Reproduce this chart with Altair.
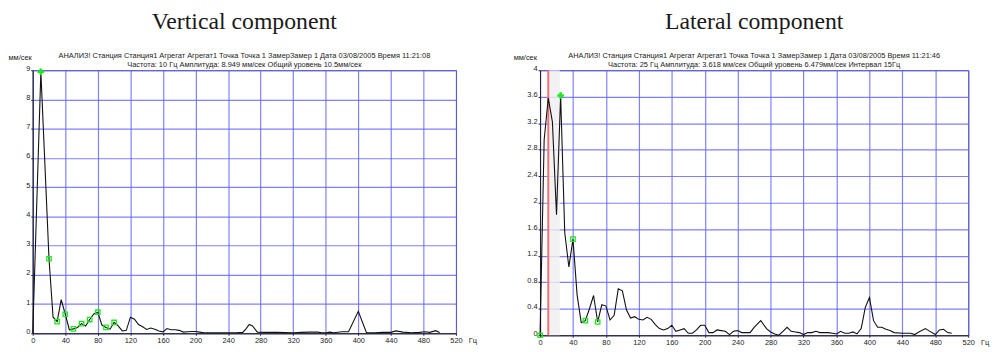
import altair as alt
import pandas as pd

# ---------------- data ----------------
V_FREQ = [0, 10, 20, 25, 30, 35, 40, 45, 50, 55, 60, 65, 70, 75, 80, 85, 90, 95, 100,
          105, 110, 115, 120, 125, 130, 135, 140, 145, 150, 155, 160, 165, 170, 175,
          180, 185, 190, 195, 200, 205, 210, 220, 230, 240, 250, 258, 262, 266, 270,
          276, 285, 300, 320, 330, 340, 350, 355, 360, 365, 370, 380, 388, 400, 410,
          420, 430, 440, 446, 455, 465, 475, 482, 488, 495, 500]
V_AMP = [0, 8.949, 2.55, 0.55, 0.40, 1.15, 0.65, 0.12, 0.15, 0.20, 0.33, 0.25, 0.47,
         0.66, 0.72, 0.28, 0.20, 0.14, 0.37, 0.25, 0.08, 0.10, 0.55, 0.48, 0.30, 0.22,
         0.13, 0.18, 0.14, 0.08, 0.05, 0.16, 0.12, 0.12, 0.10, 0.04, 0.05, 0.06, 0.06,
         0.04, 0.02, 0.02, 0.02, 0.02, 0.02, 0.03, 0.15, 0.30, 0.25, 0.04, 0.03, 0.03,
         0.02, 0.03, 0.04, 0.04, 0.02, 0.02, 0.04, 0.02, 0.05, 0.05, 0.75, 0.02, 0.02,
         0.03, 0.03, 0.08, 0.04, 0.02, 0.03, 0.05, 0.03, 0.09, 0.03]

L_FREQ = [0, 5, 10, 15, 20, 25, 30, 35, 40, 45, 50, 55, 60, 65, 70, 75, 80, 85, 90, 95,
          100, 105, 110, 115, 120, 125, 130, 135, 140, 145, 150, 155, 160, 165, 170,
          175, 180, 185, 190, 195, 200, 205, 210, 215, 220, 225, 230, 235, 240, 245,
          250, 255, 260, 268, 275, 280, 285, 290, 295, 300, 305, 310, 315, 320, 325,
          330, 335, 340, 350, 355, 360, 365, 370, 375, 380, 385, 390, 395, 400, 405,
          410, 415, 420, 425, 430, 440, 450, 455, 460, 468, 472, 480, 485, 490, 495, 500]
L_AMP = [0, 2.95, 3.58, 3.22, 1.82, 3.618, 1.55, 1.03, 1.45, 0.61, 0.19, 0.22, 0.40,
         0.60, 0.20, 0.46, 0.44, 0.23, 0.30, 0.70, 0.67, 0.38, 0.26, 0.28, 0.24, 0.23,
         0.27, 0.24, 0.16, 0.10, 0.08, 0.10, 0.15, 0.06, 0.08, 0.10, 0.03, 0.03, 0.08,
         0.15, 0.15, 0.04, 0.04, 0.08, 0.07, 0.06, 0.01, 0.06, 0.07, 0.04, 0.04, 0.04,
         0.12, 0.22, 0.10, 0.05, 0.02, 0.00, 0.06, 0.12, 0.06, 0.05, 0.04, 0.01, 0.04,
         0.04, 0.06, 0.04, 0.04, 0.03, 0.02, 0.06, 0.03, 0.03, 0.05, 0.02, 0.10, 0.42,
         0.57, 0.22, 0.12, 0.12, 0.09, 0.07, 0.04, 0.03, 0.03, 0.01, 0.05, 0.10, 0.07,
         0.01, 0.08, 0.09, 0.04, 0.03]

V_SQ_FREQ = [20, 30, 40, 50, 60, 70, 80, 90, 100]
V_SQ_AMP = [2.55, 0.40, 0.65, 0.15, 0.33, 0.47, 0.72, 0.20, 0.37]
V_PEAK_FREQ = [10]
V_PEAK_AMP = [8.949]

L_SQ_FREQ = [0, 40, 55, 70]
L_SQ_AMP = [0, 1.45, 0.22, 0.20]
L_PEAK_FREQ = [25]
L_PEAK_AMP = [3.618]
L_CURSOR_FREQ = [10]
L_BAND_START = [10]
L_BAND_END = [24]

X_TICKS = list(range(0, 521, 40))
V_YTICKS = list(range(0, 10))
L_YTICKS = [0, 0.4, 0.8, 1.2, 1.6, 2, 2.4, 2.8, 3.2, 3.6, 4]

TITLES = ["Vertical component", "Lateral component"]
HEAD1 = ["АНАЛИЗ! Станция Станция1   Агрегат Агрегат1  Точка Точка  1  ЗамерЗамер  1  Дата 03/08/2005  Время 11:21:08",
         "АНАЛИЗ! Станция Станция1   Агрегат Агрегат1  Точка Точка  1  ЗамерЗамер  1  Дата 03/08/2005  Время 11:21:46"]
HEAD2 = ["Частота: 10 Гц Амплитуда: 8.949 мм/сек Общий уровень 10.5мм/сек",
         "Частота: 25 Гц Амплитуда: 3.618 мм/сек Общий уровень 6.479мм/сек Интервал 15Гц"]
Y_UNIT = "мм/сек"
X_UNIT = "Гц"

GREEN = "#1ee81e"
SANS = "Liberation Sans"


def text_layer(txt, x, y, size, font=SANS, align="center", baseline="middle", color="#222"):
    return alt.Chart(pd.DataFrame({"t": [txt]})).mark_text(
        font=font, fontSize=size, align=align, baseline=baseline, color=color
    ).encode(text="t:N", x=alt.value(x), y=alt.value(y))


def panel(freq, amp, sqf, sqa, pkf, pka, ymax, yticks, w, h, title, h1, h2, unit_dx,
          cursor=None, band=None):
    xs = alt.Scale(domain=[0, 520], nice=False, zero=False)
    ys = alt.Scale(domain=[0, ymax], nice=False)
    xax = alt.Axis(values=X_TICKS, title=None, grid=True, labelFlush=False,
                   labelOverlap=False, format="d")
    yax = alt.Axis(values=yticks, title=None, grid=True, format=".2~f",
                   labelBaseline="alphabetic", labelOverlap=False, labelFlush=False)
    X = lambda f: alt.X(f, scale=xs, axis=xax)
    Y = lambda f: alt.Y(f, scale=ys, axis=yax)

    layers = []
    if band is not None:
        layers.append(alt.Chart(pd.DataFrame({"s": band[0], "e": band[1]})).mark_rect(
            color="#efefef", opacity=0.8).encode(
            x=X("s:Q"), x2="e:Q", y=alt.value(0), y2=alt.value(h)))
    if cursor is not None:
        layers.append(alt.Chart(pd.DataFrame({"f": cursor})).mark_rule(
            color="#f07070", strokeWidth=2).encode(
            x=X("f:Q"), y=alt.value(0), y2=alt.value(h)))
    layers.append(alt.Chart(pd.DataFrame({"f": freq, "a": amp})).mark_line(
        color="#111", strokeWidth=1.1).encode(x=X("f:Q"), y=Y("a:Q")))
    layers.append(alt.Chart(pd.DataFrame({"f": sqf, "a": sqa})).mark_point(
        shape="square", color=GREEN, size=20, strokeWidth=1.3, filled=False, opacity=1
    ).encode(x=X("f:Q"), y=Y("a:Q")))
    layers.append(alt.Chart(pd.DataFrame({"f": pkf, "a": pka})).mark_point(
        shape="cross", color=GREEN, size=45, filled=True, opacity=1
    ).encode(x=X("f:Q"), y=Y("a:Q")))
    layers.append(text_layer(title, w / 2, -60.5, 24, font="Liberation Serif",
                             baseline="top", color="#1a1a1a"))
    layers.append(text_layer(h1, w / 2, -14.5, 7.5))
    layers.append(text_layer(h2, w / 2, -5, 7.5))
    layers.append(text_layer(Y_UNIT, unit_dx, -12.5, 7.5, align="left"))
    layers.append(text_layer(X_UNIT, w + 13, h + 8, 7.5, align="left"))
    return alt.layer(*layers).properties(width=w, height=h)


left = panel(V_FREQ, V_AMP, V_SQ_FREQ, V_SQ_AMP, V_PEAK_FREQ, V_PEAK_AMP, 9, V_YTICKS,
             428, 266, TITLES[0], HEAD1[0], HEAD2[0], -24.5)
right = panel(L_FREQ, L_AMP, L_SQ_FREQ, L_SQ_AMP, L_PEAK_FREQ, L_PEAK_AMP, 4, L_YTICKS,
              433, 268, TITLES[1], HEAD1[1], HEAD2[1], -26.7,
              cursor=L_CURSOR_FREQ, band=(L_BAND_START, L_BAND_END))

chart = alt.hconcat(left, right, spacing=35).properties(
    padding={"top": 0, "left": 0, "right": 0, "bottom": 0},
    background="white",
).configure_view(
    stroke="#444", strokeWidth=1
).configure_axis(
    domainColor="#222", tickColor="#222", labelFont=SANS, labelFontSize=7.5,
    labelColor="#222", tickSize=2, labelPadding=1,
    gridColor="#6060ff", gridOpacity=0.8, gridWidth=1.2
)

chart.save("out.html", embed_options={"renderer": "svg", "actions": False})
